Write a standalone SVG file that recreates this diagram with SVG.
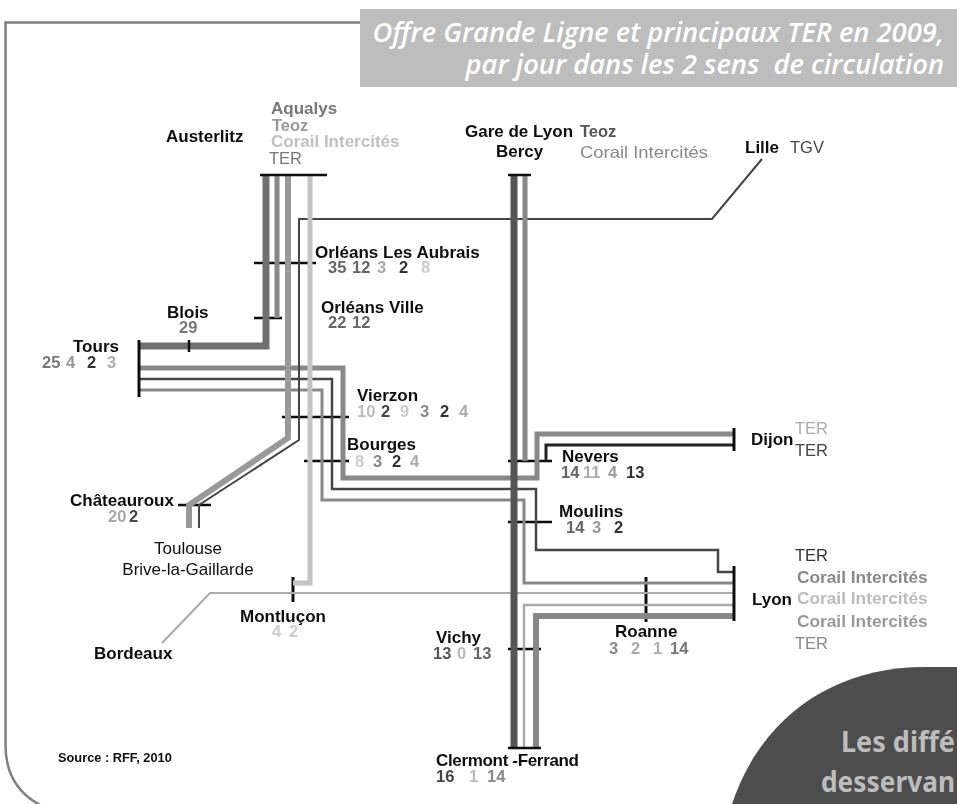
<svg xmlns="http://www.w3.org/2000/svg" width="957" height="804" viewBox="0 0 957 804">
<style>
text{font-family:"Liberation Sans",Arial,sans-serif}
.n{font-weight:700;font-size:17px;fill:#111}
.d{font-weight:700;font-size:16.5px}
.w{font-weight:700;font-size:17px}
.c{font-weight:700;font-size:17.300px}
.l{fill:none;stroke-linejoin:miter}
.tk{stroke:#111;stroke-width:2.5;fill:none}
.bar{stroke:#111;stroke-width:3;fill:none}
.r{font-size:16.5px;font-weight:400}
.m{font-size:17px;font-weight:400;fill:#111;text-anchor:middle}
.title{font-family:"Open Sans","Noto Sans",sans-serif;font-style:italic;font-weight:600;font-size:27.300px;fill:#fff;text-anchor:end;white-space:pre}
.big{font-family:"Noto Sans","Open Sans",sans-serif;font-weight:700;font-size:28px;fill:#bdbdbd}
</style>
<defs><filter id="soft" filterUnits="userSpaceOnUse" x="0" y="0" width="957" height="804"><feGaussianBlur stdDeviation="0.45"/></filter></defs>
<rect width="957" height="804" fill="#fff"/>
<g id="frame">
<path d="M362 22.500H5.500V745C5.500 775 20 795 42 806" fill="none" stroke="#808080" stroke-width="2.500"/>
<rect x="360" y="9" width="597" height="78" fill="#bdbdbd"/>
<text class="title" x="944" y="42">Offre Grande Ligne et principaux TER en 2009,</text>
<text class="title" x="944" y="74">par jour dans les 2 sens  de circulation</text>
<path d="M732 804C760 720 830 667 925 667H957V804Z" fill="#4d4d4d"/>
<text class="big" x="841" y="752" textLength="114" lengthAdjust="spacingAndGlyphs">Les diffé</text>
<text class="big" x="821" y="792" textLength="134" lengthAdjust="spacingAndGlyphs">desservan</text>
</g>
<g id="map" filter="url(#soft)">
<g id="connectors">
<g class="tk">
<path d="M254 263H316M254 318H282M282 417H349M304 461H349M178 505H211M508 461H552M508 522H552M508 649H541"/>
<path d="M646 577V622M293 577V602" stroke-width="3"/>
</g>
<path class="l" d="M139 368H343V478H537V434H734" stroke="#888" stroke-width="5"/>
<path class="l" d="M139 379H332V489H536V550H718V572H734" stroke="#444" stroke-width="2.500"/>
<path class="l" d="M139 390H322V500H524V583H734" stroke="#888" stroke-width="3"/>
<path class="l" d="M162 643L210 593H734" stroke="#aaa" stroke-width="2"/>
<path class="l" d="M524 748V605H734" stroke="#aaa" stroke-width="2.500"/>
<path class="l" d="M536 748V616H734" stroke="#888" stroke-width="6"/>
<path class="l" d="M546 461V445H734" stroke="#222" stroke-width="3"/>
<path class="l" d="M762 159L712 219H299V440L199 505V528" stroke="#444" stroke-width="2"/>
<path class="l" d="M266 175V346H139" stroke="#707070" stroke-width="7"/>
<path class="l" d="M277 175V318" stroke="#888" stroke-width="5"/>
<path class="l" d="M288 175V438L189 505V528" stroke="#999" stroke-width="6"/>
<path class="l" d="M310 175V583H293" stroke="#c4c4c4" stroke-width="5"/>
<path class="l" d="M525 175V461" stroke="#888" stroke-width="5"/>
<path class="l" d="M514 175V748" stroke="#555" stroke-width="7"/>
</g>
<g id="austerlitz">
<path class="tk" d="M260 175H327"/>
<text class="n" x="166" y="142">Austerlitz</text>
<text class="w" x="271" y="114" fill="#777">Aqualys</text>
<text class="d" x="272" y="131" fill="#999">Teoz</text>
<text class="w" x="271" y="147" fill="#c0c0c0">Corail Intercités</text>
<text class="r" x="269" y="164" fill="#777">TER</text>
</g>
<g id="gare-de-lyon">
<path class="tk" d="M508 175H531"/>
<text class="n" x="465" y="137">Gare de Lyon</text>
<text class="n" x="496" y="157">Bercy</text>
<text class="d" x="580" y="137" fill="#555">Teoz</text>
<text class="r" x="580" y="158" fill="#888" textLength="128" lengthAdjust="spacingAndGlyphs">Corail Intercités</text>
</g>
<g id="lille">
<text class="n" x="745" y="153">Lille</text>
<text class="r" x="790" y="153" fill="#444">TGV</text>
</g>
<g id="orleans-aubrais">
<text class="n" x="315" y="258">Orléans Les Aubrais</text>
<text class="d" x="328" y="273" fill="#666">35</text>
<text class="d" x="352" y="273" fill="#666">12</text>
<text class="d" x="377" y="273" fill="#aaa">3</text>
<text class="d" x="399" y="273" fill="#333">2</text>
<text class="d" x="421" y="273" fill="#ccc">8</text>
</g>
<g id="orleans-ville">
<text class="n" x="321" y="313">Orléans Ville</text>
<text class="d" x="328" y="328" fill="#666">22</text>
<text class="d" x="352" y="328" fill="#666">12</text>
</g>
<g id="blois">
<path class="tk" d="M189 340V352"/>
<text class="n" x="167" y="318">Blois</text>
<text class="d" x="179" y="333" fill="#777">29</text>
</g>
<g id="tours">
<path class="bar" d="M139 340V397"/>
<text class="n" x="73" y="352">Tours</text>
<text class="d" x="42" y="368" fill="#777">25</text>
<text class="d" x="66" y="368" fill="#999">4</text>
<text class="d" x="87" y="368" fill="#333">2</text>
<text class="d" x="107" y="368" fill="#aaa">3</text>
</g>
<g id="vierzon">
<text class="n" x="357" y="401">Vierzon</text>
<text class="d" x="357" y="417" fill="#bbb">10</text>
<text class="d" x="381" y="417" fill="#444">2</text>
<text class="d" x="400" y="417" fill="#ccc">9</text>
<text class="d" x="420" y="417" fill="#888">3</text>
<text class="d" x="440" y="417" fill="#333">2</text>
<text class="d" x="459" y="417" fill="#aaa">4</text>
</g>
<g id="bourges">
<text class="n" x="347" y="450">Bourges</text>
<text class="d" x="355" y="467" fill="#ccc">8</text>
<text class="d" x="373" y="467" fill="#888">3</text>
<text class="d" x="392" y="467" fill="#333">2</text>
<text class="d" x="410" y="467" fill="#aaa">4</text>
</g>
<g id="chateauroux">
<text class="n" x="70" y="506">Châteauroux</text>
<text class="d" x="108" y="522" fill="#aaa">20</text>
<text class="d" x="129" y="522" fill="#444">2</text>
</g>
<g id="toulouse-brive">
<text class="m" x="188" y="554">Toulouse</text>
<text class="m" x="188" y="575">Brive-la-Gaillarde</text>
</g>
<g id="bordeaux">
<text class="n" x="94" y="659">Bordeaux</text>
</g>
<g id="montlucon">
<text class="n" x="240" y="622">Montluçon</text>
<text class="d" x="272" y="637" fill="#ccc">4</text>
<text class="d" x="289" y="637" fill="#ccc">2</text>
</g>
<g id="vichy">
<text class="n" x="436" y="643">Vichy</text>
<text class="d" x="433" y="659" fill="#555">13</text>
<text class="d" x="457" y="659" fill="#bbb">0</text>
<text class="d" x="473" y="659" fill="#666">13</text>
</g>
<g id="clermont-ferrand">
<path class="tk" d="M508 748H541"/>
<text class="n" x="436" y="766" textLength="143">Clermont -Ferrand</text>
<text class="d" x="436" y="782" fill="#444">16</text>
<text class="d" x="469" y="782" fill="#bbb">1</text>
<text class="d" x="487" y="782" fill="#888">14</text>
</g>
<g id="source">
<text x="58" y="762" font-size="12.800" font-weight="700" fill="#111">Source : RFF, 2010</text>
</g>
<g id="nevers">
<text class="n" x="562" y="462">Nevers</text>
<text class="d" x="561" y="478" fill="#666">14</text>
<text class="d" x="583" y="478" fill="#aaa">11</text>
<text class="d" x="608" y="478" fill="#999">4</text>
<text class="d" x="626" y="478" fill="#333">13</text>
</g>
<g id="moulins">
<text class="n" x="559" y="517">Moulins</text>
<text class="d" x="566" y="533" fill="#666">14</text>
<text class="d" x="592" y="533" fill="#999">3</text>
<text class="d" x="614" y="533" fill="#333">2</text>
</g>
<g id="dijon">
<path class="bar" d="M734 428V451"/>
<text class="n" x="751" y="445">Dijon</text>
<text class="r" x="795" y="434" fill="#aaa">TER</text>
<text class="r" x="795" y="456" fill="#444">TER</text>
</g>
<g id="lyon">
<path class="bar" d="M734 566V621"/>
<text class="n" x="752" y="605">Lyon</text>
<text class="r" x="795" y="561" fill="#333">TER</text>
<text class="c" x="797" y="583" fill="#888">Corail Intercités</text>
<text class="c" x="797" y="604" fill="#bbb">Corail Intercités</text>
<text class="c" x="797" y="627" fill="#999">Corail Intercités</text>
<text class="r" x="795" y="649" fill="#888">TER</text>
</g>
<g id="roanne">
<text class="n" x="615" y="637">Roanne</text>
<text class="d" x="609" y="654" fill="#888">3</text>
<text class="d" x="631" y="654" fill="#aaa">2</text>
<text class="d" x="653" y="654" fill="#aaa">1</text>
<text class="d" x="670" y="654" fill="#777">14</text>
</g>
</g>
</svg>
